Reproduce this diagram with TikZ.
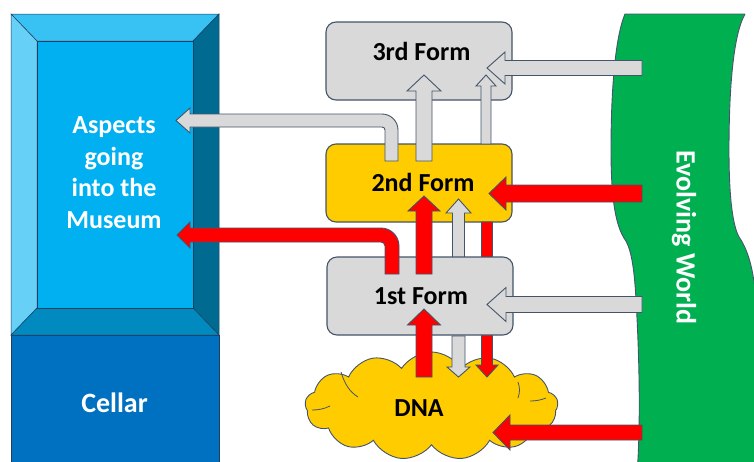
\documentclass[tikz,border=0pt]{standalone}
\usepackage{fontspec}
\setmainfont{Carlito}
\usetikzlibrary{shapes.symbols}

\definecolor{bordc}{HTML}{44546A}
\definecolor{boxgray}{HTML}{D9D9D9}
\definecolor{formyel}{HTML}{FFCC00}
\definecolor{arrred}{HTML}{FF0000}
\definecolor{worldgr}{HTML}{00B050}
\definecolor{musin}{HTML}{00B0F0}
\definecolor{mustop}{HTML}{38C2F3}
\definecolor{musleft}{HTML}{66D0F6}
\definecolor{musright}{HTML}{006A90}
\definecolor{musbot}{HTML}{008AC0}
\definecolor{cellarblue}{HTML}{0070C0}
\definecolor{musline}{HTML}{1F3F5F}

% horizontal block arrow: style, tail x, tip x, y, shaft half-width, head half-width, signed head length
\newcommand\blkh[7]{%
  \draw[#1] (#2,{#4-#5}) -- ({#3+#7},{#4-#5}) -- ({#3+#7},{#4-#6}) -- (#3,#4)
    -- ({#3+#7},{#4+#6}) -- ({#3+#7},{#4+#5}) -- (#2,{#4+#5}) -- cycle;}
% vertical block arrow: style, x, tail y, tip y, shaft half-width, head half-width, signed head length
\newcommand\blkv[7]{%
  \draw[#1] ({#2-#5},#3) -- ({#2-#5},{#4+#7}) -- ({#2-#6},{#4+#7}) -- (#2,#4)
    -- ({#2+#6},{#4+#7}) -- ({#2+#5},{#4+#7}) -- ({#2+#5},#3) -- cycle;}

\tikzset{
  formbox/.style={draw=bordc, line width=1.1pt, rounded corners=10pt, fill=#1,
    minimum width=186pt, minimum height=78pt, inner sep=0pt},
  grayblk/.style={draw=bordc, line width=0.9pt, fill=boxgray},
  redblk/.style={draw=bordc, line width=0.9pt, fill=arrred},
  bevel/.style={draw=musline, line width=0.5pt, fill=#1},
  lbl/.style={inner sep=0pt, font=\bfseries\fontsize{26}{31.5}\selectfont},
  puffline/.style={draw=bordc, line width=0.8pt},
}

\begin{document}
\begin{tikzpicture}[x=1pt, y=-1pt]
\useasboundingbox (0,0) rectangle (754,461);
\clip (0,0) rectangle (754,461);

% museum display case with bevelled frame
\draw[bevel=cellarblue] (11,335) rectangle (219,475);
\draw[bevel=mustop] (11,14) -- (219,14) -- (193,41) -- (37,41) -- cycle;
\draw[bevel=musleft] (11,14) -- (37,41) -- (37,308) -- (11,335) -- cycle;
\draw[bevel=musright] (219,14) -- (219,335) -- (193,308) -- (193,41) -- cycle;
\draw[bevel=musbot] (11,335) -- (37,308) -- (193,308) -- (219,335) -- cycle;
\draw[bevel=musin] (37,41) rectangle (193,308);

% the evolving world band: left edge, then the wavy right edge
\draw[draw=bordc, line width=0.9pt, fill=worldgr]
  (625,14) .. controls (614,40) and (611,100) .. (611,150)
  .. controls (611,190) and (614,222) .. (624,238)
  .. controls (630,246) and (634,262) .. (636,300)
  .. controls (639,350) and (641,420) .. (637,475)
  -- (770,475) -- (770,14) -- cycle;
\fill[white] (745,14) .. controls (733,35) and (729,90) .. (729,150)
  .. controls (729,200) and (733,230) .. (741,240)
  .. controls (750,255) and (754,275) .. (756,300)
  -- (770,300) -- (770,0) -- (745,0) -- cycle;
\draw[draw=bordc, line width=0.9pt] (745,14) .. controls (733,35) and (729,90) .. (729,150)
  .. controls (729,200) and (733,230) .. (741,240)
  .. controls (750,255) and (754,275) .. (756,300);

% forms and DNA
\node[formbox=boxgray] (form3) at (419,61) {};
\node[formbox=formyel] (form2) at (419,183) {};
\node[cloud, cloud puffs=13, cloud puff arc=115, aspect=2.35, draw=bordc, line width=0.9pt,
  fill=formyel, minimum width=253pt, minimum height=108pt, inner sep=0pt] (dna) at (431.5,406) {};
% inner folds of the cloud
\draw[puffline] (341,372) .. controls (345,385) and (350,392) .. (358,397);
\draw[puffline] (312,410) .. controls (318,410) and (324,409) .. (330,406);
\draw[puffline] (518,382) .. controls (520,388) and (520,392) .. (518,398);
\draw[puffline] (530,401) .. controls (536,401) and (541,400) .. (546,398);

% arrows passing behind the 1st form
\blkv{redblk}{487}{222}{377}{5.5}{11}{-12}
\blkv{grayblk}{458.5}{262}{199}{6}{12.5}{14}

\node[formbox=boxgray] (form1) at (420,296) {};

% arrows between the levels
\blkv{grayblk}{458.5}{336}{377}{6.5}{11.5}{-10}
\blkv{redblk}{424}{377}{309}{8}{16.5}{16}
\blkv{redblk}{424}{274}{196}{8}{16}{15}
\blkv{grayblk}{424}{161}{75}{8}{17}{16}
\blkv{grayblk}{486}{144}{75}{5}{10}{11}

% bent arrows into the museum
\draw[grayblk] (385,161) -- (385,130) .. controls (385,128.3) and (383.7,127) .. (382,127)
  -- (190,127) -- (190,133) -- (176,120.5) -- (190,108) -- (190,114) -- (382,114)
  .. controls (390.8,114) and (398,121.2) .. (398,130) -- (398,161) -- cycle;
\draw[redblk] (385,274) -- (385,246) .. controls (385,243.8) and (383.2,242) .. (381,242)
  -- (190,242) -- (190,248) -- (177,235) -- (190,222) -- (190,228) -- (381,228)
  .. controls (390.9,228) and (399,236.1) .. (399,246) -- (399,274) -- cycle;

% arrows coming from the world
\blkh{grayblk}{642}{487}{68}{7.5}{16}{18}
\blkh{redblk}{642}{489}{193.5}{8.5}{16.5}{17}
\blkh{grayblk}{642}{487}{304.5}{8}{17}{19}
\blkh{redblk}{642}{493}{432.5}{7.5}{17.5}{17}

% labels
\node[lbl] (t3) at (421.5,51) {3rd Form};
\node[lbl] (t2) at (423,182.5) {2nd Form};
\node[lbl] (t1) at (421,296) {1st Form};
\node[lbl] (tdna) at (419,408) {DNA};
\node[lbl, text=white, align=center] (tmus) at (114,172.5) {Aspects\\going\\into the\\Museum};
\node[lbl, text=white, font=\bfseries\fontsize{28}{33}\selectfont] (tcellar) at (114.5,402.5) {Cellar};
\node[lbl, text=white, rotate=-90, font=\bfseries\fontsize{28}{33}\selectfont] (tworld) at (684,237.5) {Evolving World};
\end{tikzpicture}
\end{document}
